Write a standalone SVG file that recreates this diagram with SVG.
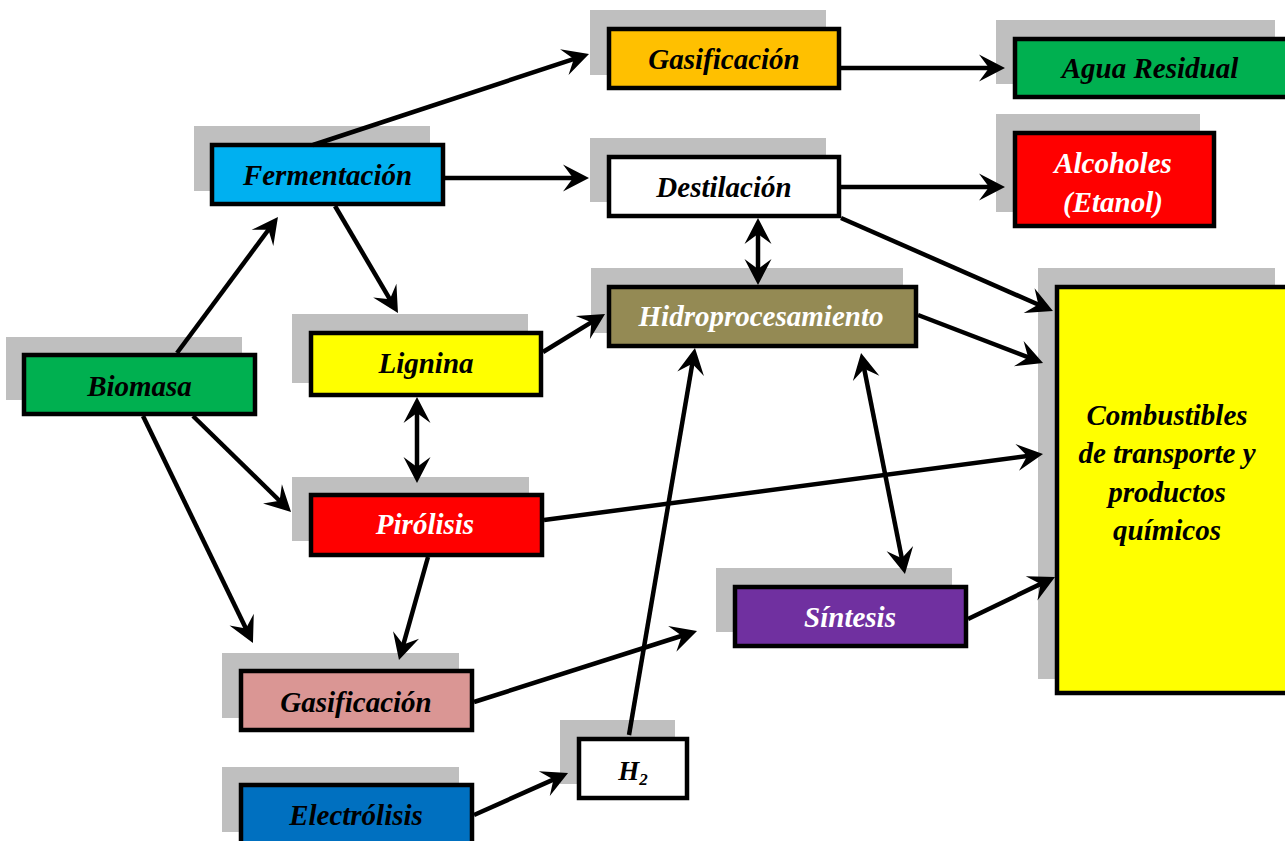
<svg xmlns="http://www.w3.org/2000/svg" width="1285" height="841" viewBox="0 0 1285 841">
<style>
.sh{fill:#BFBFBF;stroke:none}
.bx{stroke:#000;stroke-width:4.5}
.t{font-family:"Liberation Serif","Times New Roman",serif;font-weight:bold;font-style:italic;font-size:29px;text-anchor:middle;fill:#000}
.w{fill:#fff}
.c line{stroke:#000;stroke-width:4.5;fill:none}
.a{marker-end:url(#ah)}
.d{marker-start:url(#ah);marker-end:url(#ah)}
</style>
<defs>
<marker id="ah" markerUnits="userSpaceOnUse" orient="auto-start-reverse" refX="0" refY="0" markerWidth="40" markerHeight="40" viewBox="-20 -20 40 40" overflow="visible">
<path d="M10,0 L-16,-13.5 L-6,0 L-16,13.5 Z" fill="#000"/>
</marker>
</defs>
<rect width="1285" height="841" fill="#fff"/>

<g id="biomasa"><rect class="sh" x="6" y="337" width="236" height="63"/><rect class="bx" x="24" y="355" width="231" height="59" fill="#00B050"/><text class="t" x="139.5" y="396">Biomasa</text></g>
<g id="fermentacion"><rect class="sh" x="194" y="126" width="236" height="65"/><rect class="bx" x="212" y="145" width="231" height="59" fill="#00B0F0"/><text class="t" x="327.5" y="185">Fermentación</text></g>
<g id="gasificacion1"><rect class="sh" x="590" y="10" width="236" height="65"/><rect class="bx" x="609" y="29" width="230" height="59" fill="#FFC000"/><text class="t" x="724" y="69">Gasificación</text></g>
<g id="agua"><rect class="sh" x="996" y="20" width="279" height="64"/><rect class="bx" x="1015" y="39" width="285" height="58" fill="#00B050"/><text class="t" x="1150" y="78">Agua Residual</text></g>
<g id="destilacion"><rect class="sh" x="590" y="138" width="236" height="64"/><rect class="bx" x="609" y="157" width="230" height="59" fill="#FFFFFF"/><text class="t" x="724" y="197">Destilación</text></g>
<g id="alcoholes"><rect class="sh" x="996" y="114" width="204" height="98"/><rect class="bx" x="1015" y="133" width="199" height="93" fill="#FF0000"/><text class="t w" x="1113" y="173">Alcoholes</text><text class="t w" x="1113" y="212">(Etanol)</text></g>
<g id="hidroprocesamiento"><rect class="sh" x="591" y="268" width="312" height="65"/><rect class="bx" x="609" y="287" width="307" height="59" fill="#948A54"/><text class="t w" x="761" y="326">Hidroprocesamiento</text></g>
<g id="lignina"><rect class="sh" x="292" y="314" width="236" height="69"/><rect class="bx" x="311" y="333" width="230" height="62" fill="#FFFF00"/><text class="t" x="426" y="373">Lignina</text></g>
<g id="pirolisis"><rect class="sh" x="292" y="477" width="237" height="64"/><rect class="bx" x="311" y="495" width="231" height="60" fill="#FF0000"/><text class="t w" x="425" y="534">Pirólisis</text></g>
<g id="sintesis"><rect class="sh" x="716" y="568" width="236" height="64"/><rect class="bx" x="735" y="587" width="231" height="59" fill="#7030A0"/><text class="t w" x="850" y="627">Síntesis</text></g>
<g id="combustibles"><rect class="sh" x="1038" y="268" width="237" height="411"/><rect class="bx" x="1057" y="287" width="240" height="406" fill="#FFFF00"/><text class="t" x="1167" y="425">Combustibles</text><text class="t" x="1167" y="463">de transporte y</text><text class="t" x="1167" y="502">productos</text><text class="t" x="1167" y="540">químicos</text></g>
<g id="gasificacion2"><rect class="sh" x="222" y="653" width="237" height="65"/><rect class="bx" x="241" y="671" width="231" height="59" fill="#DA9694"/><text class="t" x="356" y="712">Gasificación</text></g>
<g id="h2"><rect class="sh" x="560" y="720" width="115" height="64"/><rect class="bx" x="579" y="739" width="108" height="59" fill="#FFFFFF"/><text class="t" x="633" y="780" style="font-size:27px">H<tspan style="font-size:17px" dy="5">2</tspan></text></g>
<g id="electrolisis"><rect class="sh" x="222" y="767" width="237" height="65"/><rect class="bx" x="241" y="785" width="231" height="70" fill="#0070C0"/><text class="t" x="356" y="825">Electrólisis</text></g>

<g id="connectors" class="c">
<line class="a" x1="313" y1="145" x2="579.5" y2="57.1"/>
<line class="a" x1="445" y1="178" x2="579" y2="178"/>
<line class="a" x1="841" y1="68" x2="995" y2="68"/>
<line class="a" x1="841" y1="187" x2="995" y2="187"/>
<line class="d" x1="758" y1="228" x2="758" y2="275"/>
<line class="a" x1="841" y1="218" x2="1043.8" y2="307"/>
<line class="a" x1="177" y1="353" x2="272" y2="225"/>
<line class="a" x1="335" y1="206" x2="392.9" y2="304.4"/>
<line class="a" x1="543" y1="352" x2="596.5" y2="319.2"/>
<line class="d" x1="417" y1="407" x2="417" y2="473"/>
<line class="a" x1="193" y1="416" x2="283.9" y2="505"/>
<line class="a" x1="143" y1="416" x2="248.6" y2="634"/>
<line class="a" x1="428" y1="557" x2="401.7" y2="650.4"/>
<line class="a" x1="544" y1="520" x2="1033.1" y2="455.3"/>
<line class="a" x1="918" y1="315" x2="1033.7" y2="359.4"/>
<line class="d" x1="863" y1="362.8" x2="903" y2="564.2"/>
<line class="a" x1="968" y1="619" x2="1046" y2="581.4"/>
<line class="a" x1="474" y1="702" x2="687.5" y2="634"/>
<line class="a" x1="629" y1="735" x2="693.3" y2="357.9"/>
<line class="a" x1="474" y1="815" x2="558.9" y2="777.1"/>
</g>
</svg>
